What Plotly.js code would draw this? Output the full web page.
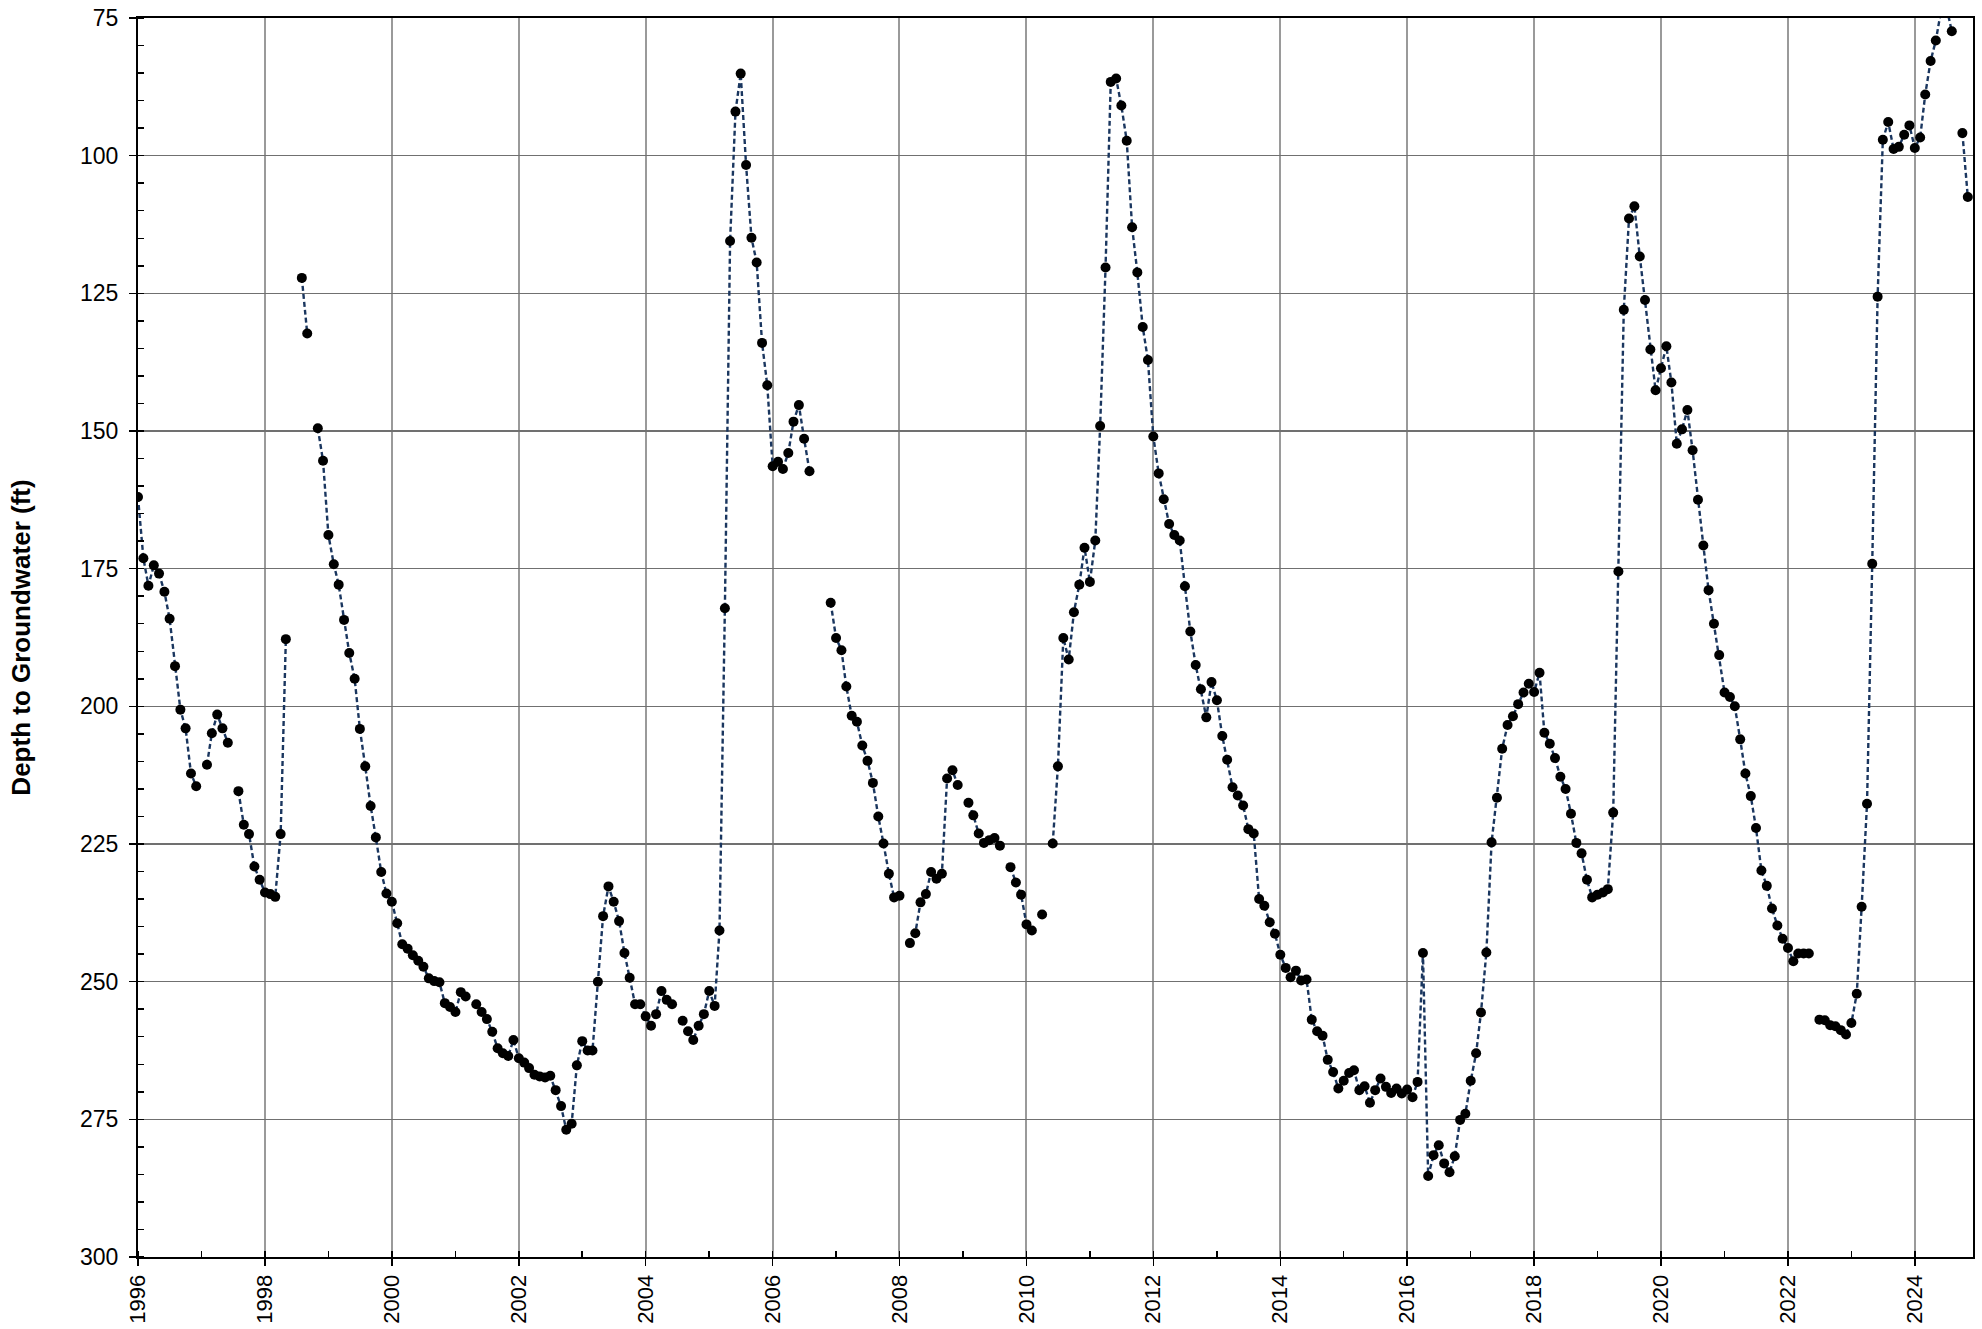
<!DOCTYPE html>
<html>
<head>
<meta charset="utf-8">
<script src="https://cdn.plot.ly/plotly-3.0.1.min.js"></script>
<style>
  html, body { margin: 0; padding: 0; background: #fff; }
  #chart { width: 1982px; height: 1329px; }
</style>
</head>
<body>
<div id="chart"></div>
<script>
// Depth to groundwater (ft), one value per month (Jan..Dec); null = no measurement
const years = [1996, 1997, 1998, 1999, 2000, 2001, 2002, 2003, 2004, 2005, 2006, 2007, 2008, 2009,
               2010, 2011, 2012, 2013, 2014, 2015, 2016, 2017, 2018, 2019, 2020, 2021, 2022, 2023, 2024];

const depth1996 = [162.0, 173.1, 178.1, 174.4, 175.9, 179.2, 184.1, 192.7, 200.6, 204.0, 212.2, 214.5];
const depth1997 = [null, 210.6, 204.9, 201.5, 204.0, 206.6, null, 215.4, 221.5, 223.2, 229.1, 231.5];
const depth1998 = [233.8, 234.1, 234.6, 223.2, 187.8, null, null, 122.2, 132.3, null, 149.5, 155.4];
const depth1999 = [168.9, 174.2, 177.9, 184.3, 190.3, 195.0, 204.1, 210.9, 218.1, 223.8, 230.1, 234.0];
const depth2000 = [235.5, 239.4, 243.2, 244.0, 245.2, 246.2, 247.3, 249.4, 249.9, 250.1, 253.9, 254.6];
const depth2001 = [255.5, 251.9, 252.7, null, 254.1, 255.5, 256.8, 259.1, 262.1, 263.0, 263.5, 260.6];
const depth2002 = [263.9, 264.7, 265.7, 266.9, 267.2, 267.4, 267.1, 269.7, 272.6, 276.9, 275.8, 265.2];
const depth2003 = [260.8, 262.5, 262.5, 250.0, 238.1, 232.7, 235.5, 239.0, 244.8, 249.3, 254.1, 254.1];
const depth2004 = [256.3, 258.0, 255.9, 251.7, 253.3, 254.1, null, 257.1, 259.0, 260.6, 258.0, 255.9];
const depth2005 = [251.7, 254.4, 240.7, 182.2, 115.5, 92.0, 85.1, 101.7, 114.9, 119.4, 134.0, 141.7];
const depth2006 = [156.4, 155.6, 156.9, 154.0, 148.3, 145.3, 151.4, 157.3, null, null, null, 181.2];
const depth2007 = [187.6, 189.8, 196.4, 201.7, 202.8, 207.1, 209.9, 213.9, 220.0, 224.9, 230.4, 234.7];
const depth2008 = [234.4, null, 243.0, 241.2, 235.6, 234.1, 230.1, 231.3, 230.4, 213.1, 211.6, 214.3];
const depth2009 = [null, 217.5, 219.8, 223.1, 224.8, 224.3, 223.9, 225.3, null, 229.2, 232.0, 234.2];
const depth2010 = [239.6, 240.7, null, 237.8, null, 224.9, 210.9, 187.6, 191.5, 182.9, 177.9, 171.2];
const depth2011 = [177.4, 169.9, 149.1, 120.3, 86.6, 86.0, 90.9, 97.3, 113.0, 121.2, 131.1, 137.1];
const depth2012 = [151.0, 157.7, 162.4, 166.9, 168.9, 169.9, 178.2, 186.4, 192.5, 196.9, 202.0, 195.6];
const depth2013 = [198.9, 205.4, 209.7, 214.7, 216.2, 218.0, 222.3, 223.1, 235.0, 236.2, 239.2, 241.3];
const depth2014 = [245.1, 247.5, 249.2, 248.0, 249.8, 249.6, 256.9, 259.0, 259.8, 264.2, 266.4, 269.4];
const depth2015 = [268.0, 266.6, 266.1, 269.7, 269.0, 272.0, 269.7, 267.6, 269.1, 270.2, 269.4, 270.3];
const depth2016 = [269.6, 271.0, 268.2, 244.8, 285.3, 281.5, 279.7, 283.0, 284.6, 281.7, 275.1, 274.0];
const depth2017 = [268.0, 263.0, 255.6, 244.7, 224.7, 216.6, 207.7, 203.4, 201.8, 199.6, 197.5, 195.9];
const depth2018 = [197.4, 193.9, 204.8, 206.8, 209.4, 212.8, 215.0, 219.5, 224.8, 226.7, 231.5, 234.7];
const depth2019 = [234.2, 233.8, 233.2, 219.3, 175.5, 128.0, 111.4, 109.2, 118.3, 126.2, 135.2, 142.6];
const depth2020 = [138.6, 134.6, 141.2, 152.3, 149.7, 146.2, 153.5, 162.5, 170.8, 178.9, 185.0, 190.7];
const depth2021 = [197.5, 198.3, 200.0, 206.0, 212.2, 216.3, 222.1, 229.8, 232.6, 236.7, 239.8, 242.2];
const depth2022 = [243.9, 246.3, 244.9, 244.9, 244.9, null, 256.9, 257.0, 257.9, 258.1, 258.8, 259.6];
const depth2023 = [257.5, 252.2, 236.4, 217.7, 174.1, 125.6, 97.1, 93.9, 98.8, 98.4, 96.2, 94.5];
const depth2024 = [98.6, 96.7, 88.9, 82.8, 79.1, 73.5, 73.0, 77.4, null, 95.9, 107.5];

const yearly = [depth1996, depth1997, depth1998, depth1999, depth2000, depth2001, depth2002, depth2003,
                depth2004, depth2005, depth2006, depth2007, depth2008, depth2009, depth2010, depth2011,
                depth2012, depth2013, depth2014, depth2015, depth2016, depth2017, depth2018, depth2019,
                depth2020, depth2021, depth2022, depth2023, depth2024];

const yTitle = 'Depth to Groundwater (ft)';

const xs = [], ys = [];
years.forEach((yr, i) => {
  yearly[i].forEach((v, m) => {
    xs.push(yr + '-' + String(m + 1).padStart(2, '0') + '-01');
    ys.push(v);
  });
});

const font = 'Arial, "Liberation Sans", sans-serif';

const trace = {
  x: xs,
  y: ys,
  type: 'scatter',
  mode: 'lines+markers',
  connectgaps: false,
  line: { color: '#1a365f', width: 2.4, dash: '5px,3px' },
  marker: { color: '#000000', size: 10 },
  hoverinfo: 'x+y'
};

const layout = {
  width: 1982,
  height: 1329,
  margin: { l: 138, r: 9, t: 18, b: 72, pad: 0 },
  paper_bgcolor: '#ffffff',
  plot_bgcolor: '#ffffff',
  showlegend: false,
  font: { family: font, color: '#000', size: 23 },
  xaxis: {
    type: 'date',
    range: ['1996-01-01', '2024-12-01'],
    tick0: '1996-01-01',
    dtick: 'M24',
    tickformat: '%Y',
    tickangle: -90,
    ticks: 'outside',
    ticklen: 7,
    tickwidth: 1.5,
    tickcolor: '#000',
    tickfont: { family: font, size: 22, color: '#000' },
    ticklabelstandoff: 0,
    showgrid: true,
    gridcolor: '#9a9a9a',
    gridwidth: 2,
    showline: true,
    linecolor: '#000',
    linewidth: 2,
    mirror: true,
    zeroline: false,
    minor: { dtick: 'M12', tick0: '1996-01-01', ticks: 'inside', ticklen: 6, tickwidth: 1.5, tickcolor: '#000', showgrid: false }
  },
  yaxis: {
    range: [300, 75],
    tick0: 75,
    dtick: 25,
    ticks: 'outside',
    ticklen: 7,
    tickwidth: 1.5,
    tickcolor: '#000',
    tickfont: { family: font, size: 23, color: '#000' },
    ticklabelstandoff: 6,
    showgrid: true,
    gridcolor: '#707070',
    gridwidth: 1.2,
    showline: true,
    linecolor: '#000',
    linewidth: 2,
    mirror: true,
    zeroline: false,
    minor: { dtick: 5, tick0: 75, ticks: 'inside', ticklen: 6, tickwidth: 1.5, tickcolor: '#000', showgrid: false },
    title: { text: '<b>' + yTitle + '</b>', font: { family: font, size: 26, color: '#000' }, standoff: 42 }
  }
};

Plotly.newPlot('chart', [trace], layout, { displayModeBar: false, staticPlot: true });
</script>
</body>
</html>
